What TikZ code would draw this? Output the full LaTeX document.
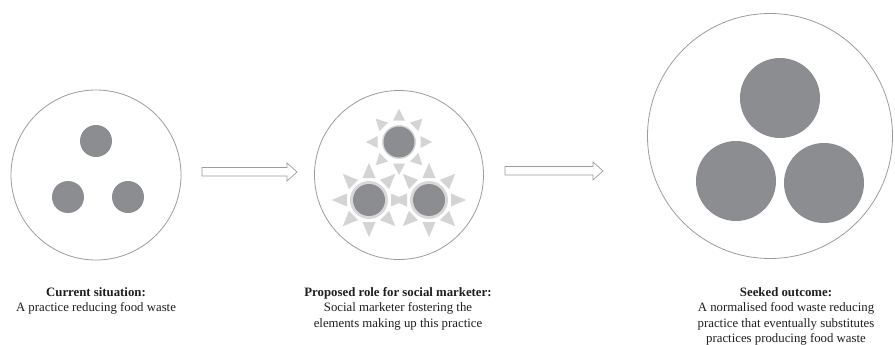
\documentclass[tikz,border=0pt]{standalone}
\usepackage{fontspec}
\setmainfont{Liberation Serif}
\definecolor{dotgrey}{HTML}{8C8D91}
\definecolor{rimgrey}{HTML}{9C9C9C}
\definecolor{raygrey}{HTML}{D4D4D4}
\definecolor{halogrey}{HTML}{D8D8D8}
\definecolor{txt}{HTML}{1E1E1E}
\tikzset{
  frame/.style={circle, draw=rimgrey, line width=0.8pt, inner sep=0pt, minimum size=#1},
  dot/.style={circle, fill=dotgrey, inner sep=0pt, minimum size=#1},
  halo/.style={circle, fill=halogrey, inner sep=0pt, minimum size=#1},
  ray/.style={fill=raygrey},
  caption/.style={align=center, font=\fontsize{12.8}{15.6}\selectfont, text=txt, inner sep=0pt, anchor=north},
  blockarrow/.style={draw=rimgrey, line width=0.7pt, fill=white, line join=miter}
}
\begin{document}
\begin{tikzpicture}[x=1pt,y=-1pt]
  \useasboundingbox[fill=white] (0,0) rectangle (895,345);

  % stage 1: three separate elements
  \node[frame=170pt] (s1) at (96,175) {};
  \node[dot=32pt] (s1a) at (96,141) {};
  \node[dot=32pt] (s1b) at (68,197) {};
  \node[dot=32pt] (s1c) at (128,197) {};

  % stage 2: elements with rays around them
  \node[frame=169pt] (s2) at (399,175) {};
  \coordinate (r1) at (399,142);
  \coordinate (r2) at (369,200);
  \coordinate (r3) at (429,200);
  \foreach \a in {0,45,...,315}{
    \fill[ray, shift={(r1)}, rotate=\a] (33,0) -- (21.5,6) -- (21.5,-6) -- cycle;
  }
  \foreach \c in {r2,r3}{
    \foreach \a in {0,45,...,315}{
      \fill[ray, shift={(\c)}, rotate=\a] (37,0) -- (22,6.5) -- (22,-6.5) -- cycle;
    }
  }
  \node[halo=34pt] at (r1) {};
  \node[halo=38pt] at (r2) {};
  \node[halo=38pt] at (r3) {};
  \node[dot=31pt] (s2a) at (r1) {};
  \node[dot=32pt] (s2b) at (r2) {};
  \node[dot=32pt] (s2c) at (r3) {};

  % stage 3: grown elements
  \node[frame=245pt] (s3) at (770,136) {};
  \node[dot=80pt] (s3a) at (780,98) {};
  \node[dot=80pt] (s3b) at (736,181) {};
  \node[dot=80pt] (s3c) at (824,183) {};

  % block arrows between the stages
  \draw[blockarrow] (202,167.5) -- (287,167.5) -- (287,163) -- (297,172)
        -- (287,181) -- (287,176) -- (202,176) -- cycle;
  \draw[blockarrow] (505,166.5) -- (593,166.5) -- (593,162) -- (603,171)
        -- (593,180) -- (593,175) -- (505,175) -- cycle;

  % captions
  \node[caption] (c1) at (96,287) {\textbf{Current situation:}\\A practice reducing food waste};
  \node[caption] (c2) at (398,287) {\textbf{Proposed role for social marketer:}\\Social marketer fostering the\\elements making up this practice};
  \node[caption] (c3) at (786,287) {\textbf{Seeked outcome:}\\A normalised food waste reducing\\practice that eventually substitutes\\practices producing food waste};
\end{tikzpicture}
\end{document}
